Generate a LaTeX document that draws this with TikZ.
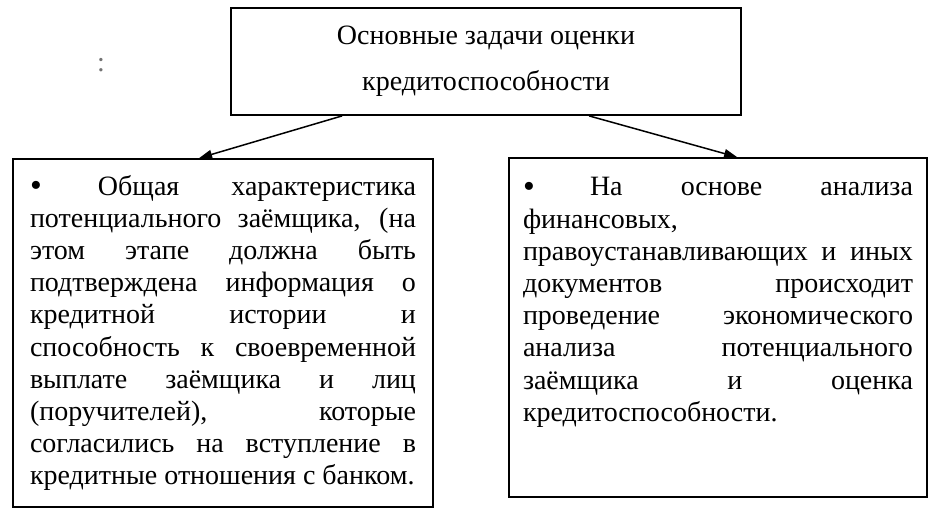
\documentclass[tikz,border=0pt]{standalone}
\usepackage{fontspec}
\setmainfont{Liberation Serif}
\usetikzlibrary{arrows.meta}
\newcommand\jline[1]{\makebox[\linewidth][s]{#1}}
\newcommand\lline[1]{\makebox[\linewidth][l]{#1}}
\newcommand\bul{\raisebox{-1.8pt}{\scalebox{1.2}{•}}}
\begin{document}
\begin{tikzpicture}[x=1pt,y=-1pt,
  box/.style={draw=black, line width=1.8pt, rectangle, inner sep=0pt},
  arr/.style={draw=black, line width=1.5pt, -{Triangle[length=13pt,width=9pt]}},
  body/.style={font=\fontsize{28}{32.2}\selectfont}]
\useasboundingbox[fill=white] (0,0) rectangle (940,514);

\node[font=\fontsize{28}{32}\selectfont, text=black!55, inner sep=0pt, anchor=base] (mark) at (101,71) {:};

\node[box, minimum width=510pt, minimum height=107pt, align=center,
      font=\fontsize{28}{46}\selectfont] (top) at (486,61.5)
  {Основные задачи оценки\\кредитоспособности};

\node[box, minimum width=420pt, minimum height=348pt, body] (left) at (223,333)
  {\parbox{386pt}{%
   \jline{\makebox[68pt][l]{\bul}Общая характеристика}\\
   \jline{потенциального заёмщика, (на}\\
   \jline{этом этапе должна быть}\\
   \jline{подтверждена информация о}\\
   \jline{кредитной истории и}\\
   \jline{способность к своевременной}\\
   \jline{выплате заёмщика и лиц}\\
   \jline{(поручителей), которые}\\
   \jline{согласились на вступление в}\\
   \lline{кредитные отношения с банком.}}};

\node[box, minimum width=418pt, minimum height=339pt, body] (right) at (718,327.5)
  {\parbox[c][300pt][t]{390pt}{%
   \jline{\makebox[67pt][l]{\bul}На основе анализа}\\
   \lline{финансовых,}\\
   \jline{правоустанавливающих и иных}\\
   \jline{документов происходит}\\
   \jline{проведение экономического}\\
   \jline{анализа потенциального}\\
   \jline{заёмщика и оценка}\\
   \lline{кредитоспособности.}}};

\draw[arr] ([xshift=112pt]top.south west) -- ([xshift=187pt]left.north west);
\draw[arr] ([xshift=359pt]top.south west) -- ([xshift=229pt]right.north west);
\end{tikzpicture}
\end{document}
